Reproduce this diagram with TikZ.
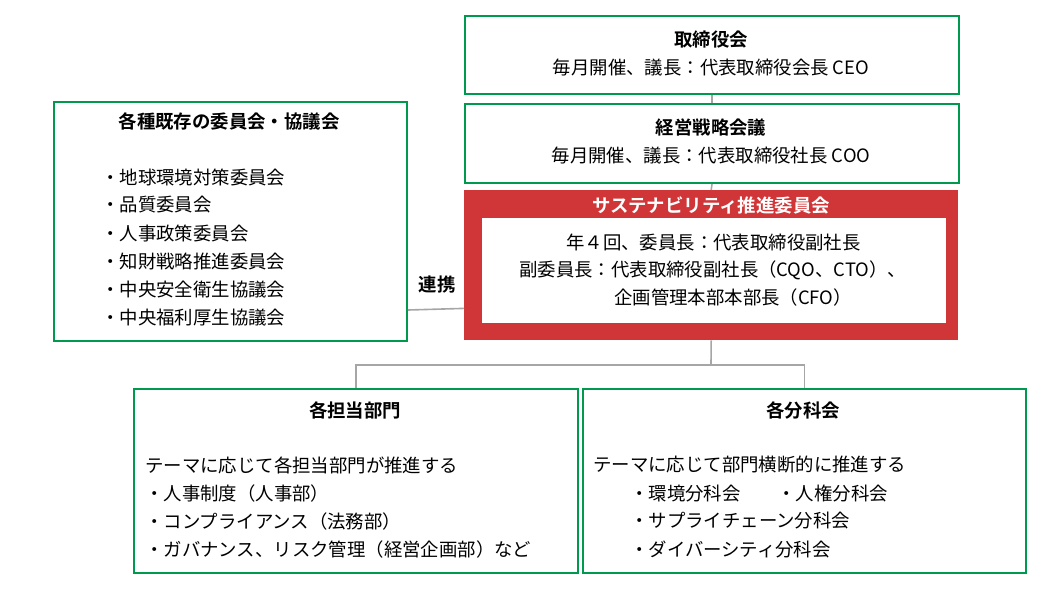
\documentclass[tikz,border=0pt]{standalone}
\usepackage{fontspec}
\setmainfont{Noto Sans CJK JP}[BoldFont={Noto Sans CJK JP Bold}]
\definecolor{jgreen}{RGB}{0,154,78}
\definecolor{jred}{RGB}{208,54,56}
\definecolor{jgray}{RGB}{166,166,166}
\tikzset{
  box/.style={draw=jgreen,line width=2pt,anchor=north west,inner sep=0pt},
  link/.style={draw=jgray,line width=1.6pt},
  txt/.style={inner sep=0pt,font=\fontsize{18.4}{22}\selectfont},
  ttl/.style={txt,font=\fontsize{18.4}{22}\selectfont\bfseries}
}
\begin{document}
\begin{tikzpicture}[x=1pt,y=-1pt]
	\useasboundingbox (0,0) rectangle (1050,590);
	% boxes
	\node[box,minimum width=494pt,minimum height=78pt] (board) at (464,15) {};
	\node[box,minimum width=494pt,minimum height=79pt] (mgmt) at (464,103) {};
	\node[fill=jred,anchor=north west,inner sep=0pt,minimum width=494pt,minimum height=150pt] (sus) at (464,190) {};
	\node[fill=white,anchor=north west,inner sep=0pt,minimum width=464pt,minimum height=105pt] (susin) at (482,218) {};
	\node[box,minimum width=353pt,minimum height=239pt] (exist) at (53,101) {};
	\node[box,minimum width=444pt,minimum height=184pt] (dept) at (133,388) {};
	\node[box,minimum width=443pt,minimum height=184pt] (sub) at (582,388) {};
	% connectors
	\coordinate (split) at (711,365);
	\draw[link] (board.south) -- (mgmt.north);
	\draw[link] (mgmt.south) -- (sus.north);
	\draw[link] (sus.south) -- (split);
	\draw[link] (dept.north) |- (split) -| (sub.north);
	\draw[link] ([yshift=32pt]exist.south east) -- ([yshift=32pt]sus.south west);
	\node[ttl] (renkei) at (437,285) {連携};
	% texts
	\node[ttl] (boardt) at (711,40) {取締役会};
	\node[txt] (boardl) at (711,68) {毎月開催、議長：代表取締役会長 CEO};
	\node[ttl] (mgmtt) at (711,128) {経営戦略会議};
	\node[txt] (mgmtl) at (711,156) {毎月開催、議長：代表取締役社長 COO};
	\node[ttl,text=white] (sust) at (711,205) {サステナビリティ推進委員会};
	\node[txt,anchor=west] (susa) at (566,242) {年４回、委員長：代表取締役副社長};
	\node[txt,anchor=west] (susb) at (519,270) {副委員長：代表取締役副社長（CQO、CTO）、};
	\node[txt,anchor=west] (susc) at (614,298) {企画管理本部本部長（CFO）};
	\node[ttl] (existt) at (229,121) {各種既存の委員会・協議会};
	\node[txt,anchor=west] (exa) at (101,177) {・地球環境対策委員会};
	\node[txt,anchor=west] (exb) at (101,205) {・品質委員会};
	\node[txt,anchor=west] (exc) at (101,233) {・人事政策委員会};
	\node[txt,anchor=west] (exd) at (101,261) {・知財戦略推進委員会};
	\node[txt,anchor=west] (exe) at (101,290) {・中央安全衛生協議会};
	\node[txt,anchor=west] (exf) at (101,318) {・中央福利厚生協議会};
	\node[ttl] (deptt) at (355,410) {各担当部門};
	\node[txt,anchor=west] (depa) at (145,465) {テーマに応じて各担当部門が推進する};
	\node[txt,anchor=west] (depb) at (145,493) {・人事制度（人事部）};
	\node[txt,anchor=west] (depc) at (145,521) {・コンプライアンス（法務部）};
	\node[txt,anchor=west] (depd) at (145,549) {・ガバナンス、リスク管理（経営企画部）など};
	\node[ttl] (subt) at (803,410) {各分科会};
	\node[txt,anchor=west] (suba) at (593,465) {テーマに応じて部門横断的に推進する};
	\node[txt,anchor=west] (subb) at (630,493) {・環境分科会　　・人権分科会};
	\node[txt,anchor=west] (subc) at (630,521) {・サプライチェーン分科会};
	\node[txt,anchor=west] (subd) at (630,549) {・ダイバーシティ分科会};
\end{tikzpicture}
\end{document}
